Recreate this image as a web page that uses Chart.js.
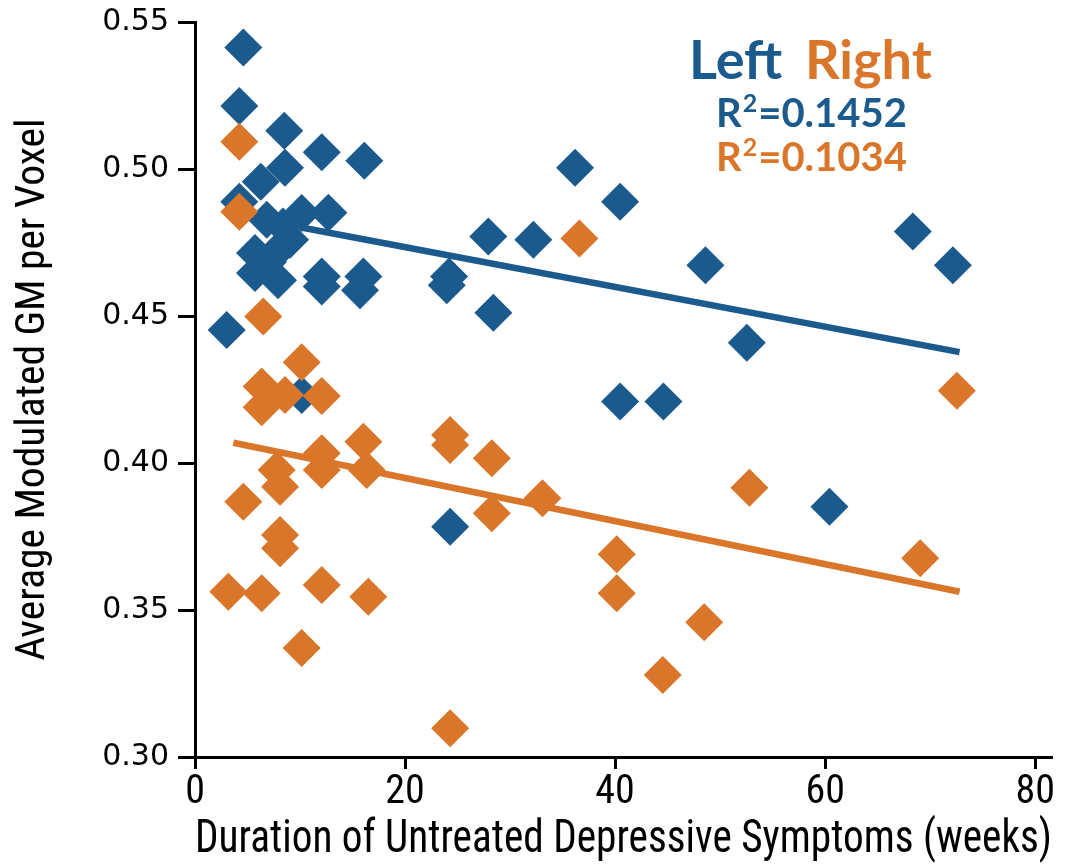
<!DOCTYPE html>
<html>
<head>
<meta charset="utf-8">
<title>GM vs duration of untreated symptoms</title>
<script src="https://cdn.jsdelivr.net/npm/chart.js@4.4.1/dist/chart.umd.min.js"></script>
<style>
    body { margin: 0; background: #fff; }
    #wrap { width: 1071px; height: 868px; position: relative; }
</style>
</head>
<body>
<div id="wrap"><canvas id="gmChart" width="1071" height="868"></canvas></div>
<script>
// Colors
const BLUE = '#1b5a8c';
const ORANGE = '#da7629';

// Left hemisphere (weeks, GM)
const leftWeeks = [4.6, 4.22, 8.5, 12.07, 16.12, 8.57, 6.26, 4.22, 6.83, 10.16, 12.7, 8.38, 9.05, 5.71, 7.9, 6.95, 5.71, 7.9,
    12.07, 12.07, 16.03, 15.71, 3.02, 10.16, 24.19, 23.97, 27.93, 28.41, 32.22, 36.19, 40.48, 40.48, 44.6, 48.6, 52.54,
    60.41, 68.35, 72.16, 24.29];
const leftGM = [0.5413, 0.5214, 0.5130, 0.5057, 0.5028, 0.5004, 0.4957, 0.4889, 0.4827, 0.4850, 0.4851, 0.4804, 0.4759,
    0.4714, 0.4724, 0.4684, 0.4646, 0.4622, 0.4634, 0.4600, 0.4634, 0.4588, 0.4452, 0.4231, 0.4634, 0.4605, 0.4770,
    0.4511, 0.4759, 0.5004, 0.4889, 0.4209, 0.4209, 0.4673, 0.4409, 0.3851, 0.4787, 0.4673, 0.3783];

// Right hemisphere (weeks, GM)
const rightWeeks = [4.22, 4.22, 6.5, 10.16, 6.35, 6.35, 8.57, 12.07, 7.78, 8.1, 12.07, 12.07, 16.03, 16.35, 4.6, 8.1, 8.1,
    3.17, 6.35, 12.07, 16.5, 10.16, 24.29, 24.29, 28.26, 28.26, 33.08, 36.6, 40.16, 40.16, 44.54, 48.48, 52.79, 69.05,
    72.54, 24.29];
const rightGM = [0.5093, 0.4855, 0.4498, 0.4343, 0.4260, 0.4190, 0.4231, 0.4228, 0.3976, 0.3919, 0.4033, 0.3976, 0.4072,
    0.3976, 0.3868, 0.3755, 0.3710, 0.3562, 0.3557, 0.3585, 0.3545, 0.3371, 0.4095, 0.4061, 0.4016, 0.3829, 0.3880,
    0.4764, 0.3690, 0.3557, 0.3279, 0.3458, 0.3916, 0.3676, 0.4246, 0.3098];

// Regression line end points
const leftFitX = [10.0, 72.8];
const leftFitY = [0.4802, 0.4377];
const rightFitX = [3.65, 72.8];
const rightFitY = [0.4069, 0.3562];

// Axis ticks
const xTicks = [0, 20, 40, 60, 80];
const yTicks = [0.30, 0.35, 0.40, 0.45, 0.50, 0.55];

// Annotation texts
const legendWords = ['Left', 'Right'];
const leftR2 = '0.1452';
const rightR2 = '0.1034';

function toPoints(xs, ys) {
    return xs.map((x, i) => ({ x: x, y: ys[i] }));
}

const narrowFont = '"Liberation Sans Narrow", "Arial Narrow", "Roboto Condensed", Arial, sans-serif';

// Draws the "Left Right" header and R² values
const annotationPlugin = {
    id: 'annotations',
    afterDraw(chart) {
        const ctx = chart.ctx;
        ctx.save();
        ctx.textBaseline = 'alphabetic';
        ctx.textAlign = 'left';

        ctx.font = 'bold 54px Lato';
        ctx.fillStyle = BLUE;
        ctx.fillText(legendWords[0], 689, 79);
        ctx.fillStyle = ORANGE;
        ctx.fillText(legendWords[1], 805, 79);

        drawR2(ctx, 716, 127, leftR2, BLUE);
        drawR2(ctx, 716, 171, rightR2, ORANGE);
        ctx.restore();
    }
};

function drawR2(ctx, x, y, value, color) {
    ctx.fillStyle = color;
    ctx.font = 'bold 40px Lato';
    ctx.fillText('R', x, y);
    let cx = x + ctx.measureText('R').width;
    ctx.font = 'bold 25px Lato';
    ctx.fillText('2', cx + 1, y - 15);
    cx += ctx.measureText('2').width + 2;
    ctx.font = 'bold 40px Lato';
    ctx.fillText('=' + value, cx, y);
}

const chart = new Chart(document.getElementById('gmChart'), {
    type: 'scatter',
    data: {
        datasets: [
            {
                type: 'line',
                data: toPoints(rightFitX, rightFitY),
                borderColor: ORANGE,
                borderWidth: 6.5,
                pointRadius: 0,
                fill: false,
                order: 0
            },
            {
                data: toPoints(rightWeeks, rightGM),
                backgroundColor: ORANGE,
                borderWidth: 0,
                pointStyle: 'rectRot',
                pointRadius: 19,
                order: 1
            },
            {
                type: 'line',
                data: toPoints(leftFitX, leftFitY),
                borderColor: BLUE,
                borderWidth: 6.5,
                pointRadius: 0,
                fill: false,
                order: 2
            },
            {
                data: toPoints(leftWeeks, leftGM),
                backgroundColor: BLUE,
                borderWidth: 0,
                pointStyle: 'rectRot',
                pointRadius: 19,
                order: 3
            }
        ]
    },
    options: {
        responsive: false,
        animation: false,
        clip: false,
        layout: {
            autoPadding: false,
            padding: { top: 22, right: 19, left: 0, bottom: 0 }
        },
        plugins: {
            legend: { display: false },
            tooltip: { enabled: false }
        },
        scales: {
            x: {
                type: 'linear',
                min: 0,
                max: 81.6,
                afterBuildTicks: scale => {
                    scale.ticks = xTicks.map(v => ({ value: v }));
                },
                afterFit: scale => {
                    scale.height = 111;
                    scale.paddingLeft = 0;
                    scale.paddingRight = 0;
                },
                border: { display: true, color: '#000', width: 3 },
                grid: {
                    drawOnChartArea: false,
                    drawTicks: true,
                    tickLength: 12,
                    tickWidth: 3,
                    tickColor: '#000'
                },
                ticks: {
                    color: '#000',
                    padding: 0,
                    font: { family: narrowFont, size: 40 },
                    maxRotation: 0
                },
                title: {
                    display: true,
                    text: 'Duration of Untreated Depressive Symptoms (weeks)',
                    color: '#000',
                    font: { family: narrowFont, size: 47, lineHeight: 1.2 },
                    padding: { top: 0, bottom: 0 }
                }
            },
            y: {
                type: 'linear',
                min: 0.30,
                max: 0.55,
                afterBuildTicks: scale => {
                    scale.ticks = yTicks.map(v => ({ value: v }));
                },
                afterFit: scale => {
                    scale.width = 195;
                    scale.paddingTop = 0;
                    scale.paddingBottom = 0;
                },
                border: { display: true, color: '#000', width: 3 },
                grid: {
                    drawOnChartArea: false,
                    drawTicks: true,
                    tickLength: 17,
                    tickWidth: 3,
                    tickColor: '#000'
                },
                ticks: {
                    color: '#000',
                    padding: 9,
                    font: { family: '"DejaVu Sans", Verdana, sans-serif', size: 30 },
                    callback: v => v.toFixed(2)
                },
                title: {
                    display: true,
                    text: 'Average Modulated GM per Voxel',
                    color: '#000',
                    font: { family: narrowFont, size: 41.5, lineHeight: 1.2 },
                    padding: { top: 9, bottom: 0 }
                }
            }
        }
    },
    plugins: [annotationPlugin]
});
</script>
</body>
</html>
